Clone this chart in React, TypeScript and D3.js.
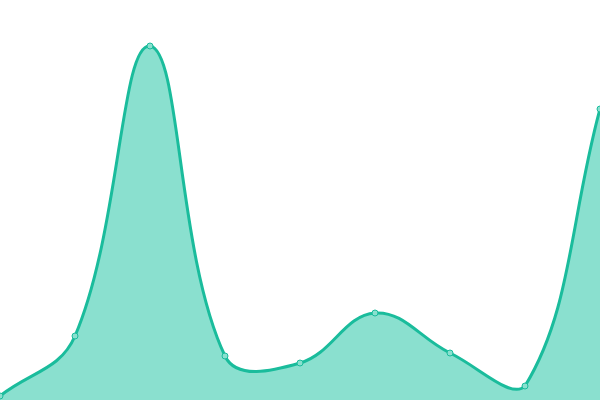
import * as d3 from "d3";
import { useEffect, useRef } from "react";

// x categories and values (y axis runs 0..400)
const categories = ["A", "B", "C", "D", "E", "F", "G", "H", "I"];
const values = [4, 64, 354, 44, 37, 87, 47, 14, 291];

const width = 600;
const height = 400;
const tension = 0.4;

// spline curve with distance-weighted control points, capped to the plot area
function splineCurve(context: any) {
  let pts: [number, number][] = [];
  let line = NaN;
  return {
    areaStart() { line = 0; },
    areaEnd() { line = NaN; },
    lineStart() { pts = []; },
    point(x: number, y: number) { pts.push([x, y]); },
    lineEnd() {
      const n = pts.length;
      if (n) {
        const cps = pts.map((cur, i) => {
          const prev = pts[Math.max(i - 1, 0)];
          const next = pts[Math.min(i + 1, n - 1)];
          const d01 = Math.hypot(cur[0] - prev[0], cur[1] - prev[1]);
          const d12 = Math.hypot(next[0] - cur[0], next[1] - cur[1]);
          let s01 = d01 / (d01 + d12);
          let s12 = d12 / (d01 + d12);
          if (isNaN(s01)) s01 = 0;
          if (isNaN(s12)) s12 = 0;
          const fa = tension * s01;
          const fb = tension * s12;
          const cap = (p: [number, number]): [number, number] => [
            Math.max(0, Math.min(width, p[0])),
            Math.max(0, Math.min(height, p[1])),
          ];
          return {
            before: cap([cur[0] - fa * (next[0] - prev[0]), cur[1] - fa * (next[1] - prev[1])]),
            after: cap([cur[0] + fb * (next[0] - prev[0]), cur[1] + fb * (next[1] - prev[1])]),
          };
        });
        if (line) context.lineTo(pts[0][0], pts[0][1]);
        else context.moveTo(pts[0][0], pts[0][1]);
        for (let i = 1; i < n; i++) {
          const a = cps[i - 1].after;
          const b = cps[i].before;
          context.bezierCurveTo(a[0], a[1], b[0], b[1], pts[i][0], pts[i][1]);
        }
      }
      if (line || (line !== 0 && n === 1)) context.closePath();
      line = 1 - line;
    },
  };
}

export default function App() {
  const ref = useRef<SVGSVGElement | null>(null);

  useEffect(() => {
    if (!ref.current) return;
    const svg = d3.select(ref.current);
    svg.selectAll("*").remove();

    const data = categories.map((c, i) => ({ c, v: values[i] }));

    const x = d3
      .scalePoint<string>()
      .domain(categories)
      .range([0, width]);

    const y = d3.scaleLinear().domain([0, 400]).range([height, 0]);

    const area = d3
      .area<{ c: string; v: number }>()
      .x((d) => x(d.c)!)
      .y0(height)
      .y1((d) => y(d.v))
      .curve(splineCurve as any);

    const line = d3
      .line<{ c: string; v: number }>()
      .x((d) => x(d.c)!)
      .y((d) => y(d.v))
      .curve(splineCurve as any);

    svg
      .append("path")
      .datum(data)
      .attr("d", area)
      .attr("fill", "#8ae0cf");

    svg
      .append("path")
      .datum(data)
      .attr("d", line)
      .attr("fill", "none")
      .attr("stroke", "#1abc9c")
      .attr("stroke-width", 3);

    svg
      .selectAll("circle")
      .data(data)
      .enter()
      .append("circle")
      .attr("cx", (d) => x(d.c)!)
      .attr("cy", (d) => y(d.v))
      .attr("r", 3)
      .attr("fill", "#8ae0cf")
      .attr("stroke", "#1abc9c")
      .attr("stroke-width", 1);
  }, []);

  return (
    <div style={{ position: "fixed", left: 0, top: 0 }}>
      <svg ref={ref} width={width} height={height} style={{ display: "block" }} />
    </div>
  );
}
